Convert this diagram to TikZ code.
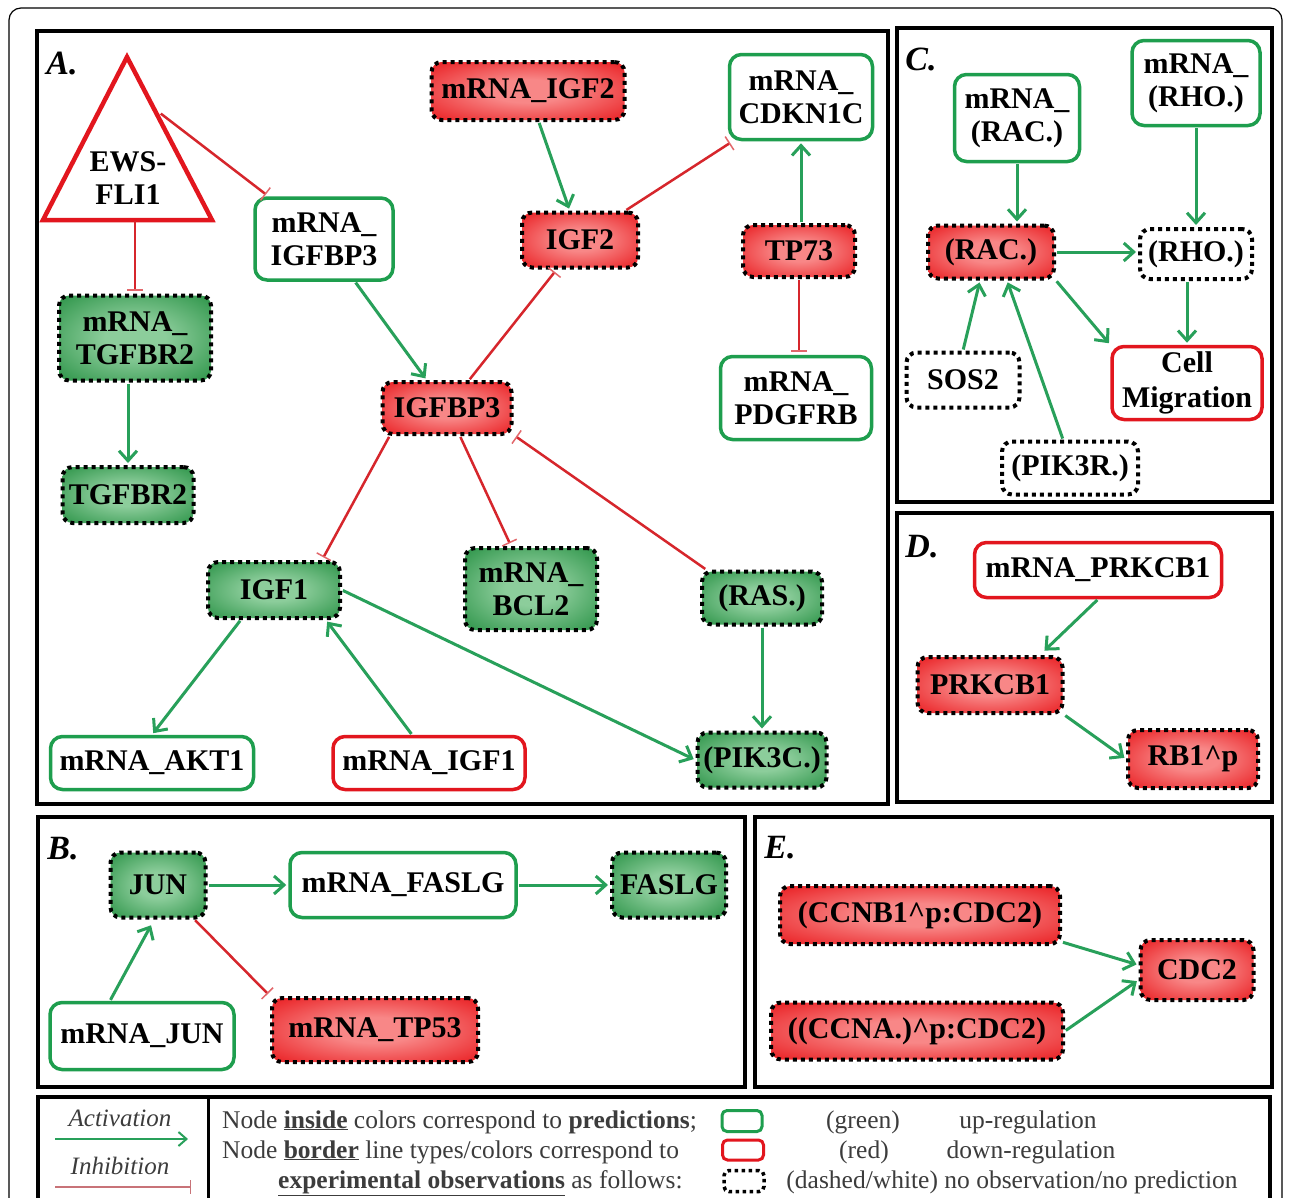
\documentclass[tikz,border=0pt]{standalone}
\usepackage{fontspec}
\setmainfont{Liberation Serif}
\usetikzlibrary{arrows.meta,calc}

\definecolor{gbord}{RGB}{30,158,78}
\definecolor{rbord}{RGB}{226,22,30}
\definecolor{gin}{RGB}{140,205,155}
\definecolor{gout}{RGB}{28,138,58}
\definecolor{rin}{RGB}{248,135,135}
\definecolor{rout}{RGB}{232,20,24}
\definecolor{actc}{RGB}{40,160,90}
\definecolor{inhc}{RGB}{214,38,44}
\definecolor{legtxt}{RGB}{60,60,60}
\definecolor{leginh}{RGB}{200,115,120}

\pgfdeclareradialshading{gshade}{\pgfpoint{0bp}{0bp}}{color(0bp)=(gin); color(10bp)=(gin); color(40bp)=(gout); color(80bp)=(gout)}
\pgfdeclareradialshading{rshade}{\pgfpoint{0bp}{0bp}}{color(0bp)=(rin); color(10bp)=(rin); color(38bp)=(rout); color(80bp)=(rout)}

\tikzset{
  nt/.style={font=\bfseries\fontsize{30}{33}\selectfont, align=center, inner sep=0pt, text=black},
  sz/.style 2 args={minimum width=#1pt, minimum height=#2pt},
  dotb/.style={draw=black, line width=4pt, dash pattern=on 4pt off 4pt, rounded corners=10pt},
  gdot/.style={nt, dotb, shading=gshade},
  rdot/.style={nt, dotb, shading=rshade},
  wdot/.style={nt, dotb, fill=white},
  gsol/.style={nt, draw=gbord, line width=3.5pt, fill=white, rounded corners=12pt},
  rsol/.style={nt, draw=rbord, line width=3.5pt, fill=white, rounded corners=12pt},
  act/.style={draw=actc, line width=3pt, -{Straight Barb[length=10pt,width=18pt]}, shorten >=2pt, shorten <=1pt},
  inh/.style={draw=inhc, line width=2.5pt, -{Bar[width=16pt,line width=1.5pt,color=inhc!70!white]}, shorten >=3pt, shorten <=1pt},
  panel/.style={draw=black, line width=4pt},
  plabel/.style={font=\bfseries\itshape\fontsize{34}{34}\selectfont, inner sep=0pt},
  lt/.style={font=\fontsize{25.5}{28}\selectfont, text=legtxt, inner sep=0pt, anchor=base west},
  lc/.style={font=\fontsize{25.5}{28}\selectfont, text=legtxt, inner sep=0pt, anchor=base},
}

\begin{document}
\begin{tikzpicture}[x=1pt,y=-1pt]
\useasboundingbox (0,0) rectangle (1290,1197);
\clip (0,0) rectangle (1290,1197);
\fill[white] (0,0) rectangle (1290,1197);

% outer frame
\draw[line width=1.2pt, rounded corners=12pt] (9,8) rectangle (1282,1240);

% panels
\draw[panel] (37,31) rectangle (888,804);
\draw[panel] (897,28) rectangle (1272,502);
\draw[panel] (897,513) rectangle (1272,802);
\draw[panel] (38,817) rectangle (745,1087);
\draw[panel] (755,817) rectangle (1272,1087);
\draw[panel] (38,1097) rectangle (1270,1240);
\draw[line width=3pt] (208,1097) -- (208,1240);

\node[plabel] (labA) at (62,64) {A.};
\node[plabel] (labC) at (921,59) {C.};
\node[plabel] (labD) at (922,547) {D.};
\node[plabel] (labB) at (63,849) {B.};
\node[plabel] (labE) at (780,848) {E.};

% ---------------- Panel A ----------------
\coordinate (ewsT) at (127,57);
\coordinate (ewsL) at (43,220);
\coordinate (ewsR) at (212,220);
\draw[draw=rbord, line width=4.5pt, fill=white, line join=miter] (ewsT) -- (ewsL) -- (ewsR) -- cycle;
\node[nt] (ews) at (128,178) {EWS-\\FLI1};
\coordinate (ewsB) at (135,220);
\coordinate (ewsE) at (160,113);

\node[rdot, sz={193}{58}] (mrnaigf2) at (528,91) {mRNA\_IGF2};
\node[gsol, sz={143}{85}] (mrnacdkn) at (801,97) {mRNA\_\\CDKN1C};
\node[rdot, sz={116}{55}] (igf2) at (580,240) {IGF2};
\node[rdot, sz={112}{52}] (tp73) at (799,251) {TP73};
\node[gsol, sz={138}{82}] (mrnaigfbp3) at (324,239) {mRNA\_\\IGFBP3};
\node[gdot, sz={152}{85}] (mrnatgfbr2) at (135,338) {mRNA\_\\TGFBR2};
\node[gdot, sz={131}{56}] (tgfbr2) at (128,495) {TGFBR2};
\node[rdot, sz={129}{52}] (igfbp3) at (447,408) {IGFBP3};
\node[gsol, sz={151}{83}] (mrnapdgfrb) at (796,398) {mRNA\_\\PDGFRB};
\node[gdot, sz={132}{56}] (igf1) at (274,590) {IGF1};
\node[gdot, sz={132}{82}] (mrnabcl2) at (531,589) {mRNA\_\\BCL2};
\node[gdot, sz={120}{53}] (ras) at (762,598) {(RAS.)};
\node[gdot, sz={129}{55}] (pik3c) at (762,760) {(PIK3C.)};
\node[gsol, sz={203}{53}] (mrnaakt1) at (152,763) {mRNA\_AKT1};
\node[rsol, sz={192}{53}] (mrnaigf1) at (429,763) {mRNA\_IGF1};

\draw[inh] (ewsE) -- (mrnaigfbp3);
\draw[inh] (ewsB) -- (ewsB |- mrnatgfbr2.north);
\draw[act] (mrnatgfbr2.south -| tgfbr2.north) -- (tgfbr2.north);
\draw[act] (mrnaigfbp3) -- (igfbp3);
\draw[act] (mrnaigf2) -- (igf2);
\draw[inh] (igf2) -- (mrnacdkn);
\draw[act] (tp73.north -| mrnacdkn.south) -- (mrnacdkn.south);
\draw[inh] (tp73.south) -- (tp73.south |- mrnapdgfrb.north);
\draw[inh] (igfbp3) -- (igf2);
\draw[inh] (igfbp3.206) -- (igf1.32.5);
\draw[inh] (igfbp3) -- (mrnabcl2);
\draw[inh] (ras.153) -- (igfbp3.-22);
\draw[act] (igf1.222) -- (mrnaakt1.north);
\draw[act] (mrnaigf1.121) -- (igf1.-30);
\draw[act] (igf1.east) -- (pik3c.west);
\draw[act] (ras.south) -- (pik3c.north);

% ---------------- Panel C ----------------
\node[gsol, sz={125}{87}] (mrnarac) at (1017,118) {mRNA\_\\(RAC.)};
\node[gsol, sz={128}{85}] (mrnarho) at (1196,83) {mRNA\_\\(RHO.)};
\node[rdot, sz={126}{53}] (rac) at (991,252) {(RAC.)};
\node[wdot, sz={112}{50}] (rho) at (1196,254) {(RHO.)};
\node[rsol, sz={150}{73}, font=\bfseries\fontsize{30}{35}\selectfont] (cellmig) at (1187,383) {Cell\\Migration};
\node[wdot, sz={113}{55}] (sos2) at (963,380) {SOS2};
\node[wdot, sz={136}{53}] (pik3r) at (1070,468) {(PIK3R.)};

\draw[act] (mrnarac.south) -- (mrnarac.south |- rac.north);
\draw[act] (mrnarho.south) -- (mrnarho.south |- rho.north);
\draw[act] (rac.east) -- (rac.east -| rho.west);
\draw[act] (rac.south east) -- (cellmig.north west);
\draw[act] (rho.south -| cellmig.north) -- (cellmig.north);
\draw[act] (sos2.north) -- ([xshift=-11pt]rac.south);
\draw[act] ([xshift=-7pt]pik3r.north) -- ([xshift=16pt]rac.south);

% ---------------- Panel D ----------------
\node[rsol, sz={247}{55}] (mrnaprkcb1) at (1098,570) {mRNA\_PRKCB1};
\node[rdot, sz={145}{56}] (prkcb1) at (990,685) {PRKCB1};
\node[rdot, sz={130}{58}] (rb1p) at (1193,759) {RB1\textasciicircum p};

\draw[act] (mrnaprkcb1.south) -- ([xshift=53pt,yshift=3pt]prkcb1.north);
\draw[act] (prkcb1.south east) -- (rb1p.west);

% ---------------- Panel B ----------------
\node[gdot, sz={95}{65}] (jun) at (158,885) {JUN};
\node[gsol, sz={226}{65}] (mrnafaslg) at (403,885) {mRNA\_FASLG};
\node[gdot, sz={114}{65}] (faslg) at (669,885) {FASLG};
\node[gsol, sz={184}{67}] (mrnajun) at (142,1036) {mRNA\_JUN};
\node[rdot, sz={206}{64}] (mrnatp53) at (375,1030) {mRNA\_TP53};

\draw[act] (jun.east) -- (mrnafaslg.west);
\draw[act] (mrnafaslg.east) -- (faslg.west);
\draw[act] ([xshift=-32pt]mrnajun.north) -- ([xshift=-6pt,yshift=-4pt]jun.south);
\draw[inh] ([xshift=-13pt]jun.south east) -- (mrnatp53.north west);

% ---------------- Panel E ----------------
\node[rdot, sz={280}{58}] (ccnb1) at (920,915) {(CCNB1\textasciicircum p:CDC2)};
\node[rdot, sz={292}{57}] (ccna) at (917,1031) {((CCNA.)\textasciicircum p:CDC2)};
\node[rdot, sz={113}{60}] (cdc2) at (1197,970) {CDC2};

\draw[act] ([yshift=4pt]ccnb1.south east) -- ([yshift=5pt]cdc2.west);
\draw[act] (ccna.east) -- ([yshift=-10pt]cdc2.west);

% ---------------- Legend ----------------
\node[font=\itshape\fontsize{25}{25}\selectfont, text=legtxt, inner sep=0pt] (lact) at (120,1118) {Activation};
\node[font=\itshape\fontsize{25}{25}\selectfont, text=legtxt, inner sep=0pt] (linh) at (120,1166) {Inhibition};
\coordinate (la1) at (55,1139);
\coordinate (la2) at (188,1139);
\coordinate (li1) at (55,1187);
\coordinate (li2) at (191,1187);
\draw[draw=actc, line width=2pt, -{Straight Barb[length=8pt,width=14pt]}] (la1) -- (la2);
\draw[draw=leginh, line width=2pt, -{Bar[width=14pt,line width=1.2pt]}] (li1) -- (li2);

\node[lt] (lt1) at (222,1128) {Node \textbf{\underline{inside}} colors correspond to \textbf{predictions};};
\node[lt] (lt2) at (222,1158) {Node \textbf{\underline{border}} line types/colors correspond to};
\node[lt] (lt3) at (278,1188) {\textbf{\underline{experimental observations}} as follows:};

\node[draw=gbord, line width=3pt, fill=white, rounded corners=5pt, minimum width=40pt, minimum height=21pt, inner sep=0pt] (swg) at (742,1121) {};
\node[draw=rbord, line width=3pt, fill=white, rounded corners=5pt, minimum width=41pt, minimum height=20pt, inner sep=0pt] (swr) at (743,1150) {};
\node[draw=black, line width=3.5pt, dash pattern=on 3.5pt off 3.5pt, fill=white, rounded corners=5pt, minimum width=40pt, minimum height=21pt, inner sep=0pt] (swd) at (744,1181) {};

\node[lc] (lgr) at (863,1128) {(green)};
\node[lc] (lup) at (1028,1128) {up-regulation};
\node[lc] (lrd) at (864,1158) {(red)};
\node[lc] (ldn) at (1031,1158) {down-regulation};
\node[lc] (ldw) at (1012,1188) {(dashed/white) no observation/no prediction};
\end{tikzpicture}
\end{document}
